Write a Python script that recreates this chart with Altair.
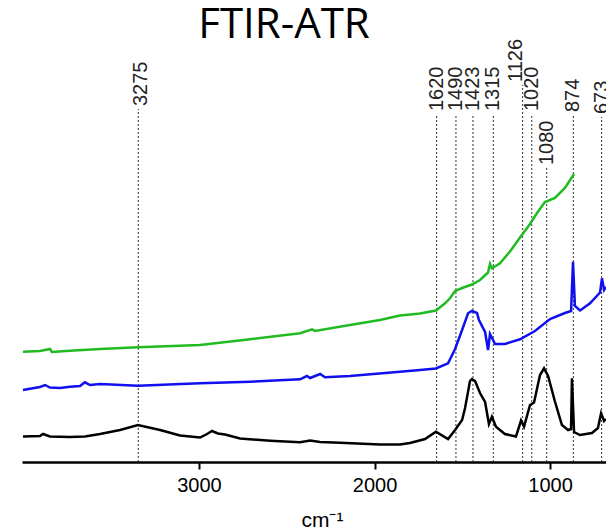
import altair as alt
import pandas as pd

# ---- spectra (wavenumber cm-1, absorbance offset a.u.) ----
black_wn = [4003, 3906, 3889, 3849, 3735, 3650, 3564, 3450, 3348, 3222, 3108, 2994, 2954, 2926, 2892, 2852,
            2766, 2595, 2424, 2367, 2310, 2197, 1969, 1855, 1798, 1712, 1650, 1581, 1541, 1501, 1484, 1456,
            1445, 1427, 1399, 1370, 1359, 1348, 1331, 1308, 1257, 1194, 1165, 1148, 1114, 1091, 1057, 1034,
            1011, 972, 932, 897, 880, 875, 863, 829, 761, 727, 709, 692, 681]
black_abs = [0.255, 0.26, 0.28, 0.255, 0.25, 0.255, 0.28, 0.32, 0.37, 0.32, 0.265, 0.245, 0.28, 0.31, 0.285, 0.275,
             0.235, 0.213, 0.197, 0.215, 0.20, 0.193, 0.175, 0.175, 0.19, 0.23, 0.303, 0.23, 0.32, 0.42, 0.54, 0.81,
             0.83, 0.81, 0.69, 0.60, 0.49, 0.38, 0.453, 0.353, 0.28, 0.255, 0.415, 0.353, 0.57, 0.595, 0.87, 0.937,
             0.86, 0.605, 0.37, 0.32, 0.33, 0.837, 0.30, 0.27, 0.29, 0.34, 0.487, 0.41, 0.43]

blue_wn = [4003, 3906, 3877, 3849, 3792, 3735, 3678, 3650, 3621, 3564, 3348, 2994, 2709, 2424, 2385, 2367,
           2310, 2282, 2140, 1855, 1741, 1650, 1581, 1541, 1501, 1467, 1445, 1416, 1405, 1370, 1353, 1342,
           1313, 1257, 1171, 1086, 1000, 915, 880, 869, 858, 829, 772, 715, 704, 692, 681]
blue_abs = [0.72, 0.75, 0.77, 0.745, 0.74, 0.753, 0.76, 0.797, 0.77, 0.78, 0.763, 0.787, 0.803, 0.827, 0.86, 0.84,
            0.88, 0.847, 0.86, 0.903, 0.92, 0.935, 0.987, 1.13, 1.32, 1.487, 1.51, 1.49, 1.42, 1.30, 1.12, 1.28,
            1.18, 1.18, 1.227, 1.31, 1.43, 1.49, 1.51, 2.003, 1.56, 1.515, 1.587, 1.695, 1.837, 1.72, 1.75]

green_wn = [4003, 3906, 3849, 3838, 3735, 3564, 3348, 2994, 2709, 2424, 2356, 2339, 2140, 1969, 1855, 1741,
            1650, 1598, 1570, 1541, 1501, 1445, 1399, 1353, 1342, 1331, 1285, 1228, 1171, 1114, 1074, 1029,
            972, 915, 863]
green_abs = [1.103, 1.11, 1.13, 1.10, 1.113, 1.13, 1.147, 1.17, 1.227, 1.287, 1.327, 1.31, 1.37, 1.42, 1.465, 1.485,
             1.515, 1.587, 1.637, 1.71, 1.74, 1.775, 1.82, 1.895, 1.98, 1.937, 1.987, 2.105, 2.245, 2.38, 2.49, 2.60,
             2.64, 2.74, 2.88]

series_names = ["black", "blue", "green"]
series_colors = ["#000000", "#1010ee", "#20bb20"]

# ---- marked bands ----
peak_labels = ["3275", "1620", "1490", "1423", "1315", "1126", "1020", "1080", "874", "673"]
peak_wn = [3346, 1646, 1536, 1439, 1323, 1156, 1104, 1019, 867, 706]
peak_label_wn = [3330, 1646, 1536, 1439, 1323, 1194, 1104, 1019, 867, 706]
peak_level = [3.56, 3.51, 3.51, 3.51, 3.51, 3.80, 3.51, 2.97, 3.50, 3.48]

tick_values = [3000, 2000, 1000]

rows = []
for name, wn, ab in [("black", black_wn, black_abs), ("blue", blue_wn, blue_abs), ("green", green_wn, green_abs)]:
    for w, a in zip(wn, ab):
        rows.append({"series": name, "wn": w, "abs": a})
spec = pd.DataFrame(rows)

peaks = pd.DataFrame({"label": peak_labels, "wn": peak_wn, "lwn": peak_label_wn, "level": peak_level})
peaks["top"] = peaks["level"] - 0.03
peaks["zero"] = 0.0

xscale = alt.Scale(domain=[681, 4008.5], reverse=True, zero=False, nice=False)
yscale = alt.Scale(domain=[0, 4.12], zero=False, nice=False)

xaxis = alt.Axis(values=tick_values, format="d", title="cm⁻¹", grid=False, domainColor="black", domainWidth=2.5,
                 tickColor="black", tickWidth=2, tickSize=7, labelFont="Liberation Sans",
                 labelFontSize=20, labelColor="black", labelPadding=6,
                 titleFont="Liberation Sans", titleFontSize=21, titleFontWeight="normal",
                 titleColor="black", titleX=300, titleY=64, titleBaseline="alphabetic")

lines = alt.Chart(spec).mark_line(strokeWidth=2.5).encode(
    x=alt.X("wn:Q", scale=xscale, axis=xaxis),
    y=alt.Y("abs:Q", scale=yscale, axis=None),
    color=alt.Color("series:N", scale=alt.Scale(domain=series_names, range=series_colors), legend=None),
)

rules = alt.Chart(peaks).mark_rule(strokeDash=[2, 2], strokeWidth=1, color="#333333").encode(
    x=alt.X("wn:Q", scale=xscale, axis=xaxis), y=alt.Y("zero:Q", scale=yscale, axis=None), y2="top:Q"
)

labels = alt.Chart(peaks).mark_text(angle=270, align="left", baseline="middle", font="Liberation Sans",
                                    fontSize=20, color="#222222").encode(
    x=alt.X("lwn:Q", scale=xscale, axis=xaxis), y=alt.Y("level:Q", scale=yscale, axis=None), text="label:N"
)

chart = alt.layer(rules, lines, labels).properties(
    width=584, height=412,
    padding={"left": 22, "top": 50, "right": 0, "bottom": 68},
    autosize=alt.AutoSizeParams(type="none"),
    title=alt.Title("FTIR-ATR", font="Open Sans", fontSize=42, fontWeight="normal", color="black",
                    anchor="middle", dx=-30, dy=47, baseline="alphabetic", offset=6),
).configure_view(stroke=None)

chart.save("out.html", embed_options={"renderer": "svg", "actions": False})
